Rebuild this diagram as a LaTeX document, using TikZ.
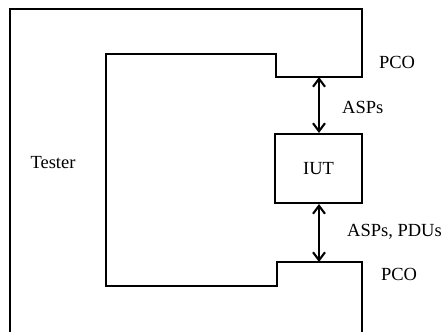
\documentclass[tikz,border=0pt]{standalone}
\usepackage{fontspec}
\setmainfont{Liberation Serif}
\usetikzlibrary{arrows.meta}
\begin{document}
\begin{tikzpicture}[x=1pt,y=-1pt,
  wall/.style={line width=2.1pt,line join=miter},
  lbl/.style={font=\fontsize{18.5}{22}\selectfont,inner sep=0pt},
  iutbox/.style={draw,line width=2.1pt,minimum width=87pt,minimum height=69pt,inner sep=0pt,font=\fontsize{18.5}{22}\selectfont},
  flow/.style={line width=2.1pt,{Straight Barb[length=8pt,width=12pt,line width=2.1pt]}-{Straight Barb[length=8pt,width=12pt,line width=2.1pt]}}]
\useasboundingbox (0,0) rectangle (443,332);
% tester outline
\draw[wall] (10,332) -- (10,9) -- (362,9) -- (362,77) -- (276,77) -- (276,54)
  -- (106,54) -- (106,286) -- (277,286) -- (277,262) -- (362,262) -- (362,332);
\coordinate (pcotop) at (319,77);
\coordinate (pcobot) at (319,262);
\node[iutbox] (iut) at (318.5,168.5) {IUT};
\draw[flow] (pcotop) -- (iut.north -| pcotop);
\draw[flow] (iut.south -| pcobot) -- (pcobot);
\node[lbl] (tester) at (53,163) {Tester};
\node[lbl] (pco1) at (397,62) {PCO};
\node[lbl,anchor=west] (asps) at (342,107) {ASPs};
\node[lbl,anchor=west] (aspspdus) at (347,232) {ASPs, PDUs};
\node[lbl] (pco2) at (399,274) {PCO};
\end{tikzpicture}
\end{document}
